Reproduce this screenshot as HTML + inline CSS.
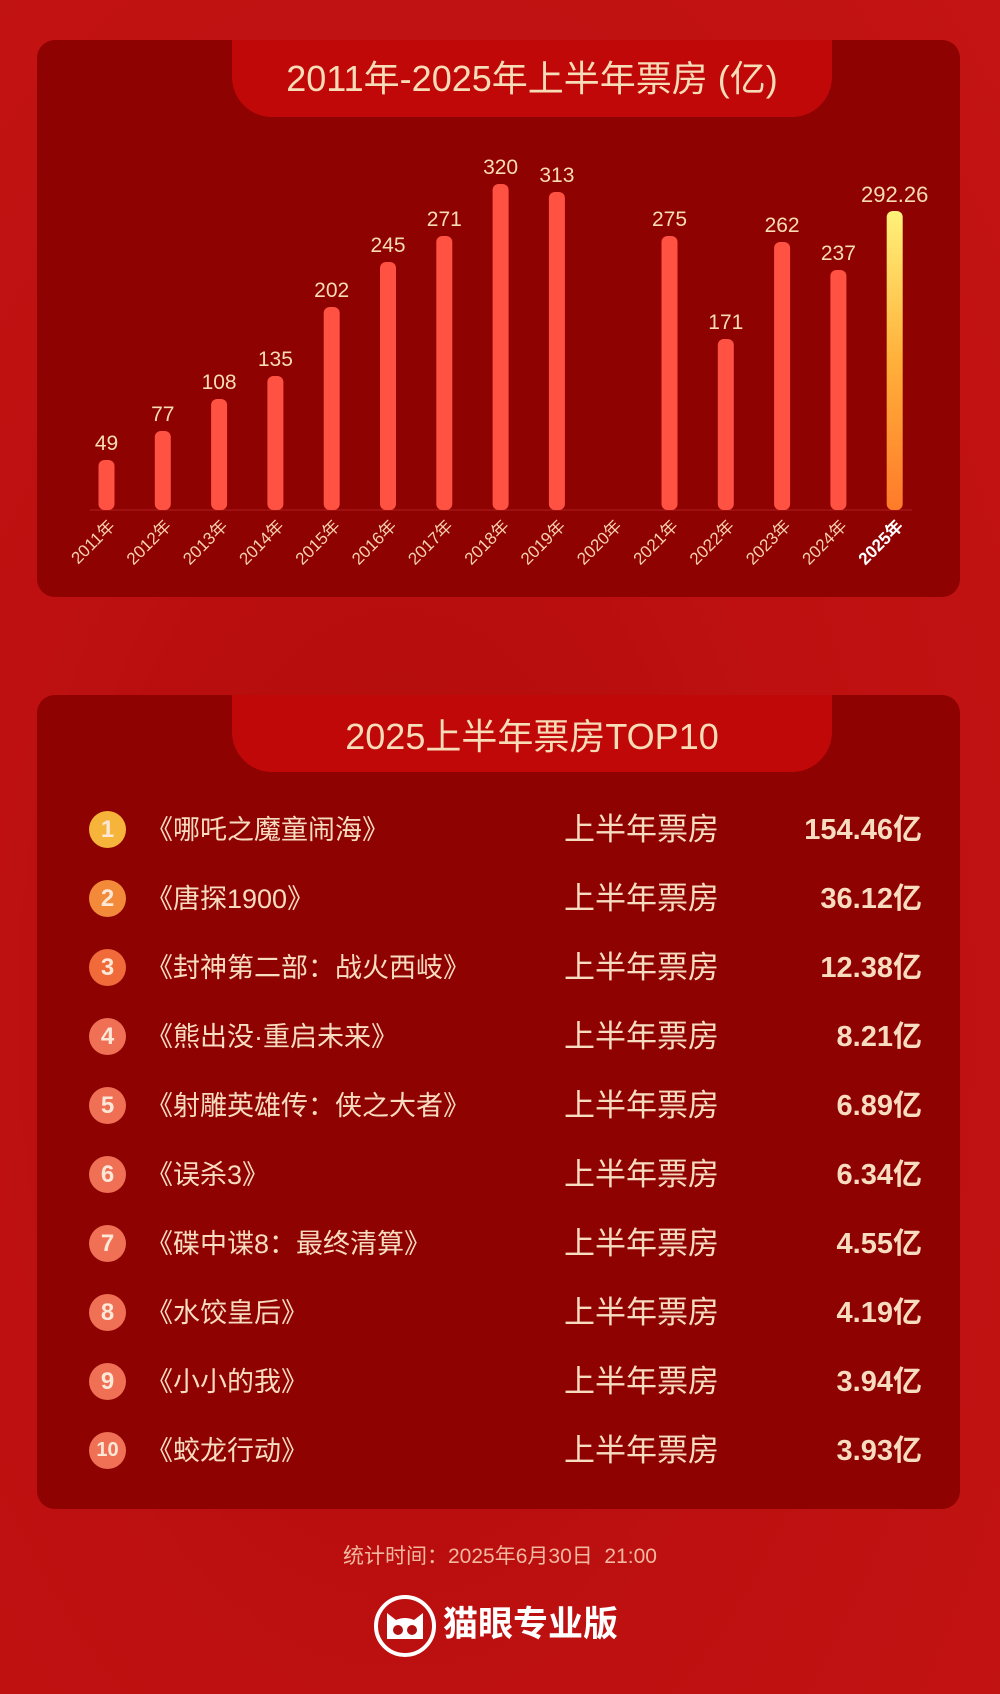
<!DOCTYPE html>
<html><head><meta charset="utf-8"><style>
*{margin:0;padding:0;box-sizing:border-box}
body{width:1000px;height:1694px;overflow:hidden;background:radial-gradient(ellipse at 40% 60%,#b00a0a 0%,#be1010 50%,#c41414 100%);font-family:"Liberation Sans","Noto Sans CJK SC",sans-serif;color:#f8dcc0;position:relative}
.panel{position:absolute;left:37px;width:923px;background:#8e0202;border-radius:18px}
.tab{position:absolute;left:195px;width:600px;height:77px;top:0;background:#c00808;border-radius:0 0 40px 40px;text-align:center;color:#f8dcb8}
.row{position:absolute;left:0;width:923px;height:40px}
.circ{position:absolute;left:52px;top:1px;width:37px;height:37px;border-radius:50%;background:#f07055;color:#fde8d8;font-weight:bold;font-size:24px;line-height:37px;text-align:center}
.name{position:absolute;left:109px;top:0;font-size:27px;line-height:40px;white-space:nowrap}
.lab{position:absolute;left:527px;top:0;font-size:31px;line-height:40px}
.val{position:absolute;right:38px;top:0;font-size:29px;line-height:40px;font-weight:bold}
</style></head><body>
<div class="panel" style="top:40px;height:557px">
<div class="tab"><div style="font-size:36px;line-height:77px">2011年-2025年上半年票房 (亿)</div></div>
</div>
<svg style="position:absolute;left:0;top:0" width="1000" height="600">
<defs><linearGradient id="g" x1="0" y1="0" x2="0" y2="1"><stop offset="0" stop-color="#fff27a"/><stop offset="0.5" stop-color="#ffb03a"/><stop offset="1" stop-color="#ff7a2a"/></linearGradient></defs>
<line x1="90" y1="510" x2="912" y2="510" stroke="#b02020" stroke-width="1"/>
<g fill="#ff5242">
<rect x="98.5" y="460" width="16" height="50" rx="6"/>
<rect x="154.8" y="431" width="16" height="79" rx="6"/>
<rect x="211.1" y="399" width="16" height="111" rx="6"/>
<rect x="267.4" y="376" width="16" height="134" rx="6"/>
<rect x="323.7" y="307" width="16" height="203" rx="6"/>
<rect x="380" y="262" width="16" height="248" rx="6"/>
<rect x="436.3" y="236" width="16" height="274" rx="6"/>
<rect x="492.6" y="184" width="16" height="326" rx="6"/>
<rect x="548.9" y="192" width="16" height="318" rx="6"/>
<rect x="661.5" y="236" width="16" height="274" rx="6"/>
<rect x="717.8" y="339" width="16" height="171" rx="6"/>
<rect x="774.1" y="242" width="16" height="268" rx="6"/>
<rect x="830.4" y="270" width="16" height="240" rx="6"/>
<rect x="886.7" y="211" width="16" height="299" rx="6" fill="url(#g)"/>
</g>
<g fill="#f8dcb8" font-family="Liberation Sans, sans-serif" font-size="21" text-anchor="middle">
<text x="106.5" y="450">49</text><text x="162.8" y="421">77</text><text x="219.1" y="389">108</text><text x="275.4" y="366">135</text>
<text x="331.7" y="297">202</text><text x="388" y="252">245</text><text x="444.3" y="226">271</text><text x="500.6" y="174">320</text>
<text x="556.9" y="182">313</text><text x="669.5" y="226">275</text><text x="725.8" y="329">171</text><text x="782.1" y="232">262</text>
<text x="838.4" y="260">237</text><text x="894.7" y="202" font-size="22">292.26</text>
</g>
<g fill="#f8d0b0" font-family="Liberation Sans, Noto Sans CJK SC, sans-serif" font-size="17" text-anchor="end">
<text transform="translate(116,527) rotate(-45)">2011年</text>
<text transform="translate(172.3,527) rotate(-45)">2012年</text>
<text transform="translate(228.6,527) rotate(-45)">2013年</text>
<text transform="translate(284.9,527) rotate(-45)">2014年</text>
<text transform="translate(341.2,527) rotate(-45)">2015年</text>
<text transform="translate(397.5,527) rotate(-45)">2016年</text>
<text transform="translate(453.8,527) rotate(-45)">2017年</text>
<text transform="translate(510.1,527) rotate(-45)">2018年</text>
<text transform="translate(566.4,527) rotate(-45)">2019年</text>
<text transform="translate(622.7,527) rotate(-45)">2020年</text>
<text transform="translate(679,527) rotate(-45)">2021年</text>
<text transform="translate(735.3,527) rotate(-45)">2022年</text>
<text transform="translate(791.6,527) rotate(-45)">2023年</text>
<text transform="translate(847.9,527) rotate(-45)">2024年</text>
<text transform="translate(904.2,527) rotate(-45)" font-weight="bold" fill="#fff">2025年</text>
</g>
</svg>

<div class="panel" style="top:695px;height:814px">
<div class="tab"><div style="font-size:36px;line-height:84px">2025上半年票房TOP10</div></div>
<div class="row" style="top:115px"><div class="circ" style="background:#f6b43a">1</div><div class="name">《哪吒之魔童闹海》</div><div class="lab">上半年票房</div><div class="val">154.46亿</div></div>
<div class="row" style="top:184px"><div class="circ" style="background:#f28a3a">2</div><div class="name">《唐探1900》</div><div class="lab">上半年票房</div><div class="val">36.12亿</div></div>
<div class="row" style="top:253px"><div class="circ" style="background:#f06a3a">3</div><div class="name">《封神第二部：战火西岐》</div><div class="lab">上半年票房</div><div class="val">12.38亿</div></div>
<div class="row" style="top:322px"><div class="circ">4</div><div class="name">《熊出没·重启未来》</div><div class="lab">上半年票房</div><div class="val">8.21亿</div></div>
<div class="row" style="top:391px"><div class="circ">5</div><div class="name">《射雕英雄传：侠之大者》</div><div class="lab">上半年票房</div><div class="val">6.89亿</div></div>
<div class="row" style="top:460px"><div class="circ">6</div><div class="name">《误杀3》</div><div class="lab">上半年票房</div><div class="val">6.34亿</div></div>
<div class="row" style="top:529px"><div class="circ">7</div><div class="name">《碟中谍8：最终清算》</div><div class="lab">上半年票房</div><div class="val">4.55亿</div></div>
<div class="row" style="top:598px"><div class="circ">8</div><div class="name">《水饺皇后》</div><div class="lab">上半年票房</div><div class="val">4.19亿</div></div>
<div class="row" style="top:667px"><div class="circ">9</div><div class="name">《小小的我》</div><div class="lab">上半年票房</div><div class="val">3.94亿</div></div>
<div class="row" style="top:736px"><div class="circ" style="font-size:20px">10</div><div class="name">《蛟龙行动》</div><div class="lab">上半年票房</div><div class="val">3.93亿</div></div>
</div>

<div style="position:absolute;left:0;width:1000px;top:1541px;text-align:center;font-size:21px;color:#f2b8a0;line-height:32px">统计时间：2025年6月30日&nbsp; 21:00</div>
<svg style="position:absolute;left:372px;top:1593px" width="66" height="66">
<circle cx="33" cy="33" r="29" fill="none" stroke="#fff" stroke-width="4"/>
<path d="M15 46 L15 20 L24 27 Q33 23 42 27 L51 20 L51 46 Z" fill="#fff"/>
<circle cx="26" cy="37" r="5" fill="#b01010"/><circle cx="40" cy="37" r="5" fill="#b01010"/>
</svg>
<div style="position:absolute;left:443px;top:1603px;font-size:35px;font-weight:bold;color:#fff;line-height:44px">猫眼专业版</div>
</body></html>
